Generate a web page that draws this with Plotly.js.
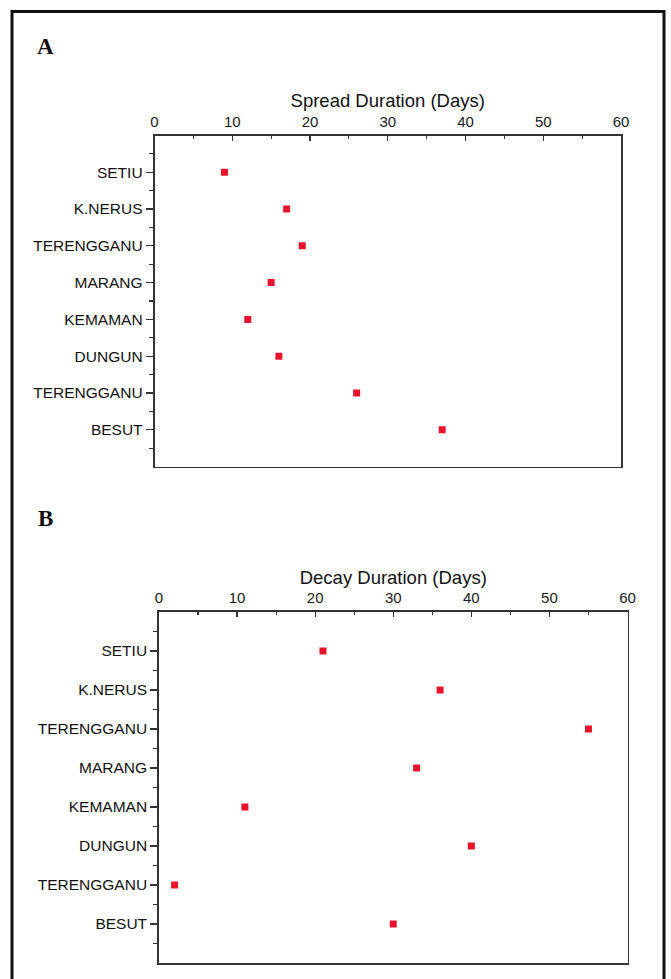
<!DOCTYPE html>
<html>
<head>
<meta charset="utf-8">
<script src="https://cdn.plot.ly/plotly-3.0.1.min.js"></script>
<style>
  html, body { margin: 0; padding: 0; background: #ffffff; }
  #chart { width: 671px; height: 979px; }
</style>
</head>
<body>
<div id="chart"></div>
<script>
// ---- data ----
const categories = ['SETIU', 'K.NERUS', 'TERENGGANU', 'MARANG', 'KEMAMAN', 'DUNGUN', 'TERENGGANU', 'BESUT'];
const spreadDays = [9, 17, 19, 15, 12, 16, 26, 37];
const decayDays  = [21, 36, 55, 33, 11, 40, 2, 30];
const xTickVals  = [0, 10, 20, 30, 40, 50, 60];
const panelLabels = ['A', 'B'];
const axisTitles = ['Spread Duration (Days)', 'Decay Duration (Days)'];

// category positions (duplicated names need a numeric axis)
const positions = categories.map((c, i) => i + 1);

const markerStyle = { symbol: 'square', size: 7, color: '#e8142c' };
const font = 'Arial, "Liberation Sans", sans-serif';
const axisColor = '#333333';

const traces = [
  { x: spreadDays, y: positions, xaxis: 'x', yaxis: 'y', type: 'scatter', mode: 'markers',
    marker: markerStyle, text: categories, hoverinfo: 'text+x', showlegend: false },
  { x: decayDays, y: positions, xaxis: 'x2', yaxis: 'y2', type: 'scatter', mode: 'markers',
    marker: markerStyle, text: categories, hoverinfo: 'text+x', showlegend: false }
];

function xAxis(domain, anchor, title) {
  return {
    domain: domain, anchor: anchor, side: 'top',
    range: [0, 60], tickvals: xTickVals, ticktext: xTickVals.map(String),
    ticks: 'inside', ticklen: 5, tickwidth: 1.2, tickcolor: axisColor,
    minor: { dtick: 5, tick0: 0, ticks: 'inside', ticklen: 3, tickwidth: 1.2, tickcolor: axisColor },
    showline: true, linecolor: axisColor, linewidth: 1.8, mirror: true,
    showgrid: false, zeroline: false,
    tickfont: { family: font, size: 15, color: '#1a1a1a' },
    ticklabelstandoff: 1,
    title: { text: title, font: { family: font, size: 18.5, color: '#111111' }, standoff: 0 }
  };
}
function yAxis(domain, anchor) {
  return {
    domain: domain, anchor: anchor,
    range: [9, 0], tickvals: positions, ticktext: categories,
    ticks: 'outside', ticklen: 7, tickwidth: 1.2, tickcolor: axisColor,
    minor: { tickvals: positions.map(p => p - 0.5).concat([positions.length + 0.5]),
             ticks: 'outside', ticklen: 4, tickwidth: 1.2, tickcolor: axisColor },
    showline: true, linecolor: axisColor, linewidth: 1.8, mirror: true,
    showgrid: false, zeroline: false,
    tickfont: { family: font, size: 15.5, color: '#111111' }
  };
}

const W = 671, H = 979;
const layout = {
  width: W, height: H,
  margin: { l: 0, r: 0, t: 0, b: 0 },
  paper_bgcolor: '#ffffff', plot_bgcolor: '#ffffff',
  xaxis:  xAxis([154.5 / W, 621 / W], 'y', axisTitles[0]),
  yaxis:  yAxis([1 - 466.5 / H, 1 - 135.5 / H], 'x'),
  xaxis2: xAxis([159 / W, 627.5 / W], 'y2', axisTitles[1]),
  yaxis2: yAxis([1 - 963 / H, 1 - 612 / H], 'x2'),
  shapes: [
    { type: 'rect', xref: 'paper', yref: 'paper',
      x0: 12 / W, x1: 664 / W, y0: -0.02, y1: 1 - 11.5 / H,
      line: { color: '#111111', width: 3 }, fillcolor: 'rgba(0,0,0,0)', layer: 'above' }
  ],
  annotations: [
    { text: panelLabels[0], xref: 'paper', yref: 'paper', x: 45 / W, y: 1 - 47 / H,
      xanchor: 'center', yanchor: 'middle', showarrow: false,
      font: { family: '"Liberation Serif", "Times New Roman", serif', size: 23, color: '#111111', weight: 'bold' } },
    { text: panelLabels[1], xref: 'paper', yref: 'paper', x: 45 / W, y: 1 - 518 / H,
      xanchor: 'center', yanchor: 'middle', showarrow: false,
      font: { family: '"Liberation Serif", "Times New Roman", serif', size: 23, color: '#111111', weight: 'bold' } }
  ]
};

Plotly.newPlot('chart', traces, layout, { displayModeBar: false, staticPlot: true });
</script>
</body>
</html>
